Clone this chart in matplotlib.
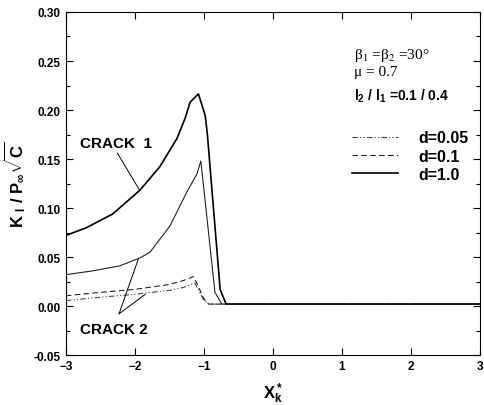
import numpy as np
import matplotlib.pyplot as plt

plt.rcParams['font.family'] = ['Liberation Sans', 'DejaVu Sans']
plt.rcParams['mathtext.fontset'] = 'custom'
plt.rcParams['mathtext.rm'] = 'Liberation Sans:bold'
plt.rcParams['mathtext.it'] = 'Liberation Sans:bold'
plt.rcParams['mathtext.bf'] = 'Liberation Sans:bold'

# crack 1, d=1.0
x_c1 = [-3.0, -2.7, -2.32, -1.93, -1.64, -1.39, -1.27, -1.2, -1.08, -0.98, -0.95, -0.765, -0.68, 3.0]
y_c1 = [0.072, 0.080, 0.094, 0.118, 0.142, 0.171, 0.192, 0.208, 0.2165, 0.194, 0.175, 0.017, 0.002, 0.002]
# crack 2, d=1.0
x_c2 = [-3.0, -2.6, -2.22, -1.93, -1.78, -1.49, -1.25, -1.1, -1.045, -0.84, -0.74, 3.0]
y_c2 = [0.032, 0.036, 0.041, 0.049, 0.055, 0.082, 0.116, 0.135, 0.148, 0.014, 0.002, 0.002]
# d=0.1
x_d01 = [-3.0, -2.5, -2.0, -1.5, -1.3, -1.15, -1.08, -1.02, -0.97, -0.93, 3.0]
y_d01 = [0.0105, 0.014, 0.017, 0.022, 0.026, 0.030, 0.020, 0.010, 0.004, 0.002, 0.002]
# d=0.05
x_d005 = [-3.0, -2.5, -2.0, -1.5, -1.3, -1.13, -1.07, -1.01, -0.96, -0.92, 3.0]
y_d005 = [0.0055, 0.009, 0.012, 0.016, 0.019, 0.0235, 0.015, 0.007, 0.003, 0.002, 0.002]

fig = plt.figure(figsize=(4.84, 4.06), dpi=100)
ax = fig.add_axes([0.136, 0.123, 0.856, 0.845])

ax.plot(x_d005, y_d005, color='#444444', lw=0.8, dashes=[5, 2, 1, 2, 1, 2], label='d=0.05')
ax.plot(x_d01, y_d01, color='#222222', lw=0.8, dashes=[5, 3], label='d=0.1')
ax.plot(x_c1, y_c1, color='black', lw=1.2, label='d=1.0')
ax.plot(x_c2, y_c2, color='#222222', lw=0.8)

ax.set_xlim(-3, 3)
ax.set_ylim(-0.05, 0.30)
ax.set_xticks(np.arange(-3, 4, 1))
ax.set_yticks(np.arange(-0.05, 0.301, 0.05))
ax.set_yticks(np.arange(-0.025, 0.30, 0.05), minor=True)
ax.yaxis.set_major_formatter(plt.FormatStrFormatter('%.2f'))
ax.tick_params(direction='in', which='both', top=True, right=True, labelsize=8.5, width=0.8)
ax.tick_params(which='major', length=5)
ax.tick_params(which='minor', length=3)
for lbl in ax.get_xticklabels() + ax.get_yticklabels():
    lbl.set_fontweight('bold')

ax.set_xlabel(r'X$_k^*$', fontsize=12, fontweight='bold', labelpad=6)
ax.set_ylabel(r'K $_{\rm I}$ / P$_\infty\sqrt{C}$', fontsize=12, fontweight='bold', labelpad=4)

ax.text(1.17, 0.257, r'β$_1$ =β$_2$ =30°', fontsize=11, family='Liberation Serif',
        math_fontfamily='stix', va='center')
ax.text(1.17, 0.239, 'μ = 0.7', fontsize=11, family='Liberation Serif', va='center')
ax.text(1.17, 0.2145, r'l$_2$ / l$_1$ =0.1 / 0.4', fontsize=10, fontweight='bold', va='center')

ax.legend(loc='upper left', bbox_to_anchor=(0.691, 0.655), frameon=False,
          borderpad=0, borderaxespad=0, handlelength=2.9, handletextpad=1.25,
          labelspacing=0.2, prop={'weight': 'bold', 'size': 11.5})

ax.annotate('CRACK  1', xy=(-1.93, 0.118), xytext=(-2.8, 0.162), fontsize=11, fontweight='bold',
            arrowprops=dict(arrowstyle='-', lw=0.7, color='black', shrinkA=0, shrinkB=0,
                            relpos=(0.5, 0.0)))
ax.annotate('', xy=(-1.95, 0.048), xytext=(-2.23, -0.008),
            arrowprops=dict(arrowstyle='-', lw=0.7, color='black', shrinkA=0, shrinkB=0))
ax.annotate('', xy=(-1.85, 0.012), xytext=(-2.23, -0.008),
            arrowprops=dict(arrowstyle='-', lw=0.7, color='black', shrinkA=0, shrinkB=0))
ax.text(-2.8, -0.027, 'CRACK 2', fontsize=11, fontweight='bold')

fig.savefig('out.png', dpi=100)
